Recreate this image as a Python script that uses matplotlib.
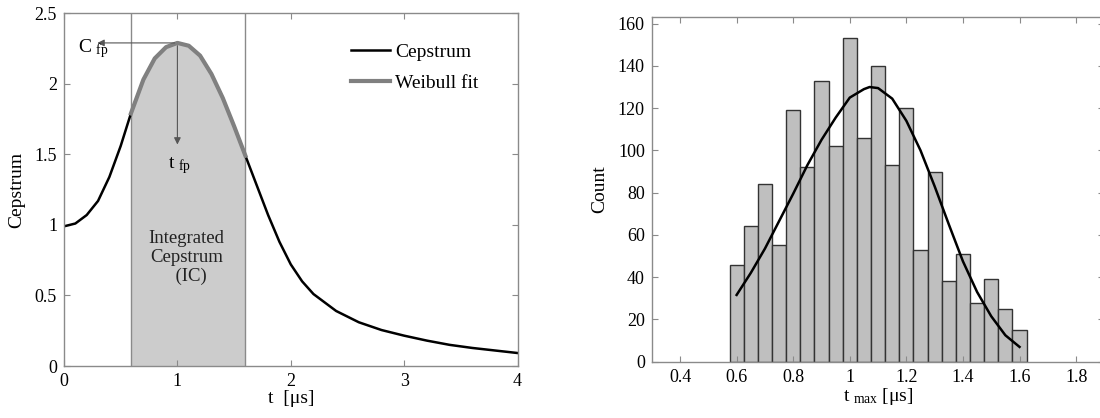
import numpy as np
import matplotlib
matplotlib.use("Agg")
import matplotlib.pyplot as plt

plt.rcParams["font.family"] = ["Liberation Serif", "DejaVu Serif"]
plt.rcParams["mathtext.fontset"] = "custom"
plt.rcParams["mathtext.rm"] = "Liberation Serif"
plt.rcParams["font.size"] = 13

# Left panel: cepstrum curve
cep_t = [0.0, 0.1, 0.2, 0.3, 0.4, 0.5, 0.59, 0.7, 0.8, 0.9, 1.0, 1.1, 1.2, 1.3,
         1.4, 1.5, 1.6, 1.7, 1.8, 1.9, 2.0, 2.1, 2.2, 2.4, 2.6, 2.8, 3.0, 3.2,
         3.4, 3.6, 3.8, 4.0]
cep_c = [0.99, 1.01, 1.07, 1.17, 1.34, 1.56, 1.79, 2.03, 2.18, 2.26, 2.29, 2.27,
         2.20, 2.07, 1.90, 1.70, 1.49, 1.28, 1.07, 0.88, 0.72, 0.60, 0.51, 0.39,
         0.31, 0.255, 0.215, 0.18, 0.15, 0.128, 0.11, 0.092]

# Weibull fit over the integration window
weib_t = [0.59, 0.7, 0.8, 0.9, 1.0, 1.1, 1.2, 1.3, 1.4, 1.5, 1.6]
weib_c = [1.79, 2.03, 2.18, 2.26, 2.29, 2.27, 2.20, 2.07, 1.90, 1.70, 1.49]
ic_start, ic_end = 0.59, 1.60
t_fp, c_fp = 1.0, 2.29

# Right panel: histogram of t_max
bin_centers = [0.60, 0.65, 0.70, 0.75, 0.80, 0.85, 0.90, 0.95, 1.00, 1.05, 1.10,
               1.15, 1.20, 1.25, 1.30, 1.35, 1.40, 1.45, 1.50, 1.55, 1.60]
counts = [46, 64, 84, 55, 119, 92, 133, 102, 153, 106, 140,
          93, 120, 53, 90, 38, 51, 28, 39, 25, 15]
fit_x = [0.60, 0.65, 0.70, 0.75, 0.80, 0.85, 0.90, 0.95, 1.00, 1.05, 1.07,
         1.10, 1.15, 1.20, 1.25, 1.30, 1.35, 1.40, 1.45, 1.50, 1.55, 1.60]
fit_y = [31.6, 42, 53.5, 66.5, 79.5, 93, 105, 115.5, 125, 129, 130,
         129.5, 124.5, 114, 100, 83, 65, 47.5, 33, 21.5, 12.5, 7]

fig = plt.figure(figsize=(11, 4.18), dpi=100)
ax1 = fig.add_axes([0.0582, 0.1244, 0.4123, 0.8438])
ax2 = fig.add_axes([0.5925, 0.1347, 0.4115, 0.8239])

for ax in (ax1, ax2):
    for s in ax.spines.values():
        s.set_color("#8a8a8a")
        s.set_linewidth(1.0)
    ax.tick_params(direction="in", top=True, right=True, color="#8a8a8a",
                   length=4, labelsize=13, pad=5)

# ---- left panel
ax1.fill_between([t for t in cep_t if ic_start <= t <= ic_end],
                 [c for t, c in zip(cep_t, cep_c) if ic_start <= t <= ic_end],
                 color="#cccccc", lw=0)
ax1.axvline(ic_start, color="#8a8a8a", lw=1)
ax1.axvline(ic_end, color="#8a8a8a", lw=1)
ax1.plot(cep_t, cep_c, color="black", lw=1.8, label="Cepstrum")
ax1.plot(weib_t, weib_c, color="#808080", lw=3, label="Weibull fit")
ax1.annotate("", xy=(0.27, c_fp), xytext=(t_fp, c_fp),
             arrowprops=dict(arrowstyle="-|>", color="#555555", lw=0.8,
                             mutation_scale=10))
ax1.annotate("", xy=(t_fp, 1.55), xytext=(t_fp, c_fp),
             arrowprops=dict(arrowstyle="-|>", color="#555555", lw=0.8,
                             mutation_scale=10))
ax1.text(0.12, 2.25, r"$\mathregular{C_{\ fp}}$", fontsize=14, va="center")
ax1.text(0.92, 1.42, r"$\mathregular{t_{\ fp}}$", fontsize=14, va="center")
ax1.text(1.08, 0.77, "Integrated\nCepstrum\n  (IC)", ha="center", va="center",
         fontsize=13.5, color="#222222", linespacing=1.15)

ax1.set_xlim(0, 4)
ax1.set_ylim(0, 2.5)
ax1.set_xticks([0, 1, 2, 3, 4])
ax1.set_yticks([0, 0.5, 1, 1.5, 2, 2.5])
ax1.set_yticklabels(["0", "0.5", "1", "1.5", "2", "2.5"])
ax1.set_xlabel("t  [μs]", fontsize=14, labelpad=0)
ax1.set_ylabel("Cepstrum", fontsize=14, labelpad=7)
ax1.legend(loc="upper left", bbox_to_anchor=(0.632, 0.915), frameon=False,
           borderaxespad=0, borderpad=0, handlelength=2.0, handletextpad=0.3,
           labelspacing=0.7, fontsize=14)

# ---- right panel
ax2.bar(bin_centers, counts, width=0.05, color="#bfbfbf", edgecolor="#333333",
        linewidth=1.0)
ax2.plot(fit_x, fit_y, color="black", lw=1.8)
ax2.set_xlim(0.3, 1.9)
ax2.set_ylim(0, 163)
ax2.set_xticks([0.4, 0.6, 0.8, 1.0, 1.2, 1.4, 1.6, 1.8])
ax2.set_xticklabels(["0.4", "0.6", "0.8", "1", "1.2", "1.4", "1.6", "1.8"])
ax2.set_yticks(range(0, 161, 20))
ax2.set_xlabel(r"$\mathregular{t_{\ max}}$ [μs]", fontsize=14, labelpad=0)
ax2.set_ylabel("Count", fontsize=14, labelpad=7)

fig.savefig("out.png", dpi=100)
